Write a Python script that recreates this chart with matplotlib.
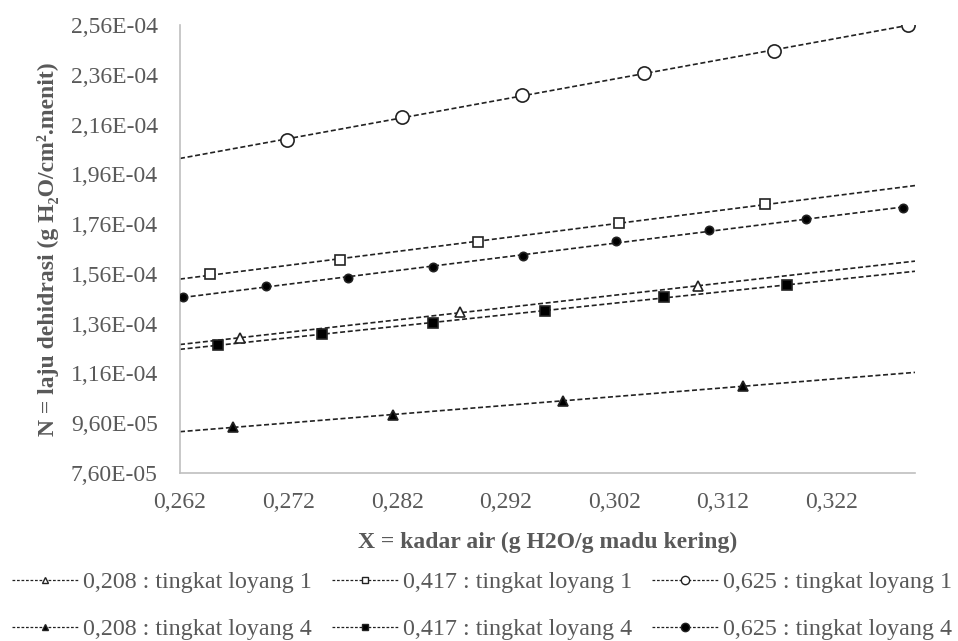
import numpy as np
import matplotlib
matplotlib.use("Agg")
import matplotlib.pyplot as plt
from matplotlib.lines import Line2D
from matplotlib.ticker import FuncFormatter

# data: X = kadar air, N = laju dehidrasi
x_tri_1 = [0.26753, 0.28781, 0.30974]
n_tri_1 = [1.302e-4, 1.407e-4, 1.511e-4]

x_sq_1 = [0.26476, 0.27675, 0.28946, 0.30246, 0.31592]
n_sq_1 = [1.560e-4, 1.616e-4, 1.688e-4, 1.764e-4, 1.841e-4]

x_cir_1 = [0.27186, 0.28246, 0.29352, 0.30476, 0.31675, 0.32910]
n_cir_1 = [2.098e-4, 2.190e-4, 2.279e-4, 2.367e-4, 2.455e-4, 2.560e-4]

x_tri_4 = [0.26688, 0.28163, 0.29730, 0.31389]
n_tri_4 = [9.45e-5, 9.93e-5, 1.049e-4, 1.110e-4]

x_sq_4 = [0.26550, 0.27509, 0.28532, 0.29564, 0.30661, 0.31794]
n_sq_4 = [1.274e-4, 1.318e-4, 1.363e-4, 1.411e-4, 1.467e-4, 1.515e-4]

x_cir_4 = [0.26228, 0.26993, 0.27748, 0.28532, 0.29361, 0.30218,
           0.31076, 0.31970, 0.32864]
n_cir_4 = [1.467e-4, 1.511e-4, 1.543e-4, 1.588e-4, 1.632e-4, 1.692e-4,
           1.736e-4, 1.780e-4, 1.825e-4]

labels = ["0,208 : tingkat loyang 1", "0,417 : tingkat loyang 1",
          "0,625 : tingkat loyang 1", "0,208 : tingkat loyang 4",
          "0,417 : tingkat loyang 4", "0,625 : tingkat loyang 4"]

x_ticks = [0.262, 0.272, 0.282, 0.292, 0.302, 0.312, 0.322]
y_ticks = [7.6e-5, 9.6e-5, 1.16e-4, 1.36e-4, 1.56e-4, 1.76e-4,
           1.96e-4, 2.16e-4, 2.36e-4, 2.56e-4]
x_min, x_max = 0.262, 0.3297
y_min, y_max = 7.6e-5, 2.56e-4

plt.rcParams['font.family'] = ['Liberation Serif', 'DejaVu Serif']
gray = '#595959'

# (x, y, marker, filled, marker size, trend span)
series = [
    (x_tri_1, n_tri_1, '^', False, 6.5, 'axis'),
    (x_sq_1, n_sq_1, 's', False, 6.5, 'axis'),
    (x_cir_1, n_cir_1, 'o', False, 9.5, 'left'),
    (x_tri_4, n_tri_4, '^', True, 6.5, 'axis'),
    (x_sq_4, n_sq_4, 's', True, 6.5, 'axis'),
    (x_cir_4, n_cir_4, 'o', True, 6.0, 'data'),
]

fig = plt.figure(figsize=(9.58, 6.41), dpi=100)
ax = fig.add_axes([0.1879, 0.2621, 0.7672, 0.6989])

handles = []
for (xs, ys, mk, filled, ms, span), lab in zip(series, labels):
    xs = np.array(xs)
    ys = np.array(ys)
    face = 'black' if filled else 'white'
    # linear trendline (like Excel)
    a, b = np.polyfit(xs, ys, 1)
    if span == 'axis':
        xt = np.array([x_min, x_max])
    elif span == 'left':
        xt = np.array([x_min, xs.max()])
    else:
        xt = np.array([xs.min(), xs.max()])
    ax.plot(xt, a * xt + b, color='#222222', lw=1.2,
            dashes=(3, 1.6), zorder=2)
    ax.plot(xs, ys, linestyle='none', marker=mk, ms=ms,
            markerfacecolor=face, markeredgecolor='#222222',
            markeredgewidth=1.2, zorder=3)
    handles.append(Line2D([], [], color='#222222', lw=0.9,
                          dashes=(2.2, 1.4), marker=mk, ms=5 if mk != 'o' else 6,
                          markerfacecolor=face, markeredgecolor='#222222',
                          markeredgewidth=1.0, label=lab))

ax.set_xlim(x_min, x_max)
ax.set_ylim(y_min, y_max)
ax.set_xticks(x_ticks)
ax.set_yticks(y_ticks)
ax.xaxis.set_major_formatter(FuncFormatter(lambda v, p: f"{v:.3f}".replace('.', ',')))
ax.yaxis.set_major_formatter(FuncFormatter(lambda v, p: f"{v:.2E}".replace('.', ',')))
ax.tick_params(axis='both', length=0, labelsize=17, labelcolor=gray)
ax.tick_params(axis='y', pad=16)
ax.tick_params(axis='x', pad=14)

for s in ['top', 'right']:
    ax.spines[s].set_visible(False)
for s in ['left', 'bottom']:
    ax.spines[s].set_color('#bfbfbf')
    ax.spines[s].set_linewidth(1.2)

ax.set_xlabel("X = kadar air (g H2O/g madu kering)", fontsize=17,
              fontweight='bold', color=gray, labelpad=13)
ax.set_ylabel("N = laju dehidrasi (g H\u2082O/cm\u00b2.menit)", fontsize=17,
              fontweight='bold', color=gray, labelpad=8)

# column-first fill order so rows read loyang 1 / loyang 4
order = [0, 3, 1, 4, 2, 5]
leg = fig.legend([handles[i] for i in order], [labels[i] for i in order],
                 ncol=3, loc='upper left', bbox_to_anchor=(0.0125, 0.109),
                 frameon=False, fontsize=17.3, handlelength=2.75,
                 handletextpad=0.2, columnspacing=0.85, labelspacing=1.05,
                 borderpad=0, borderaxespad=0)
for t in leg.get_texts():
    t.set_color(gray)

fig.savefig("out.png", dpi=100)
